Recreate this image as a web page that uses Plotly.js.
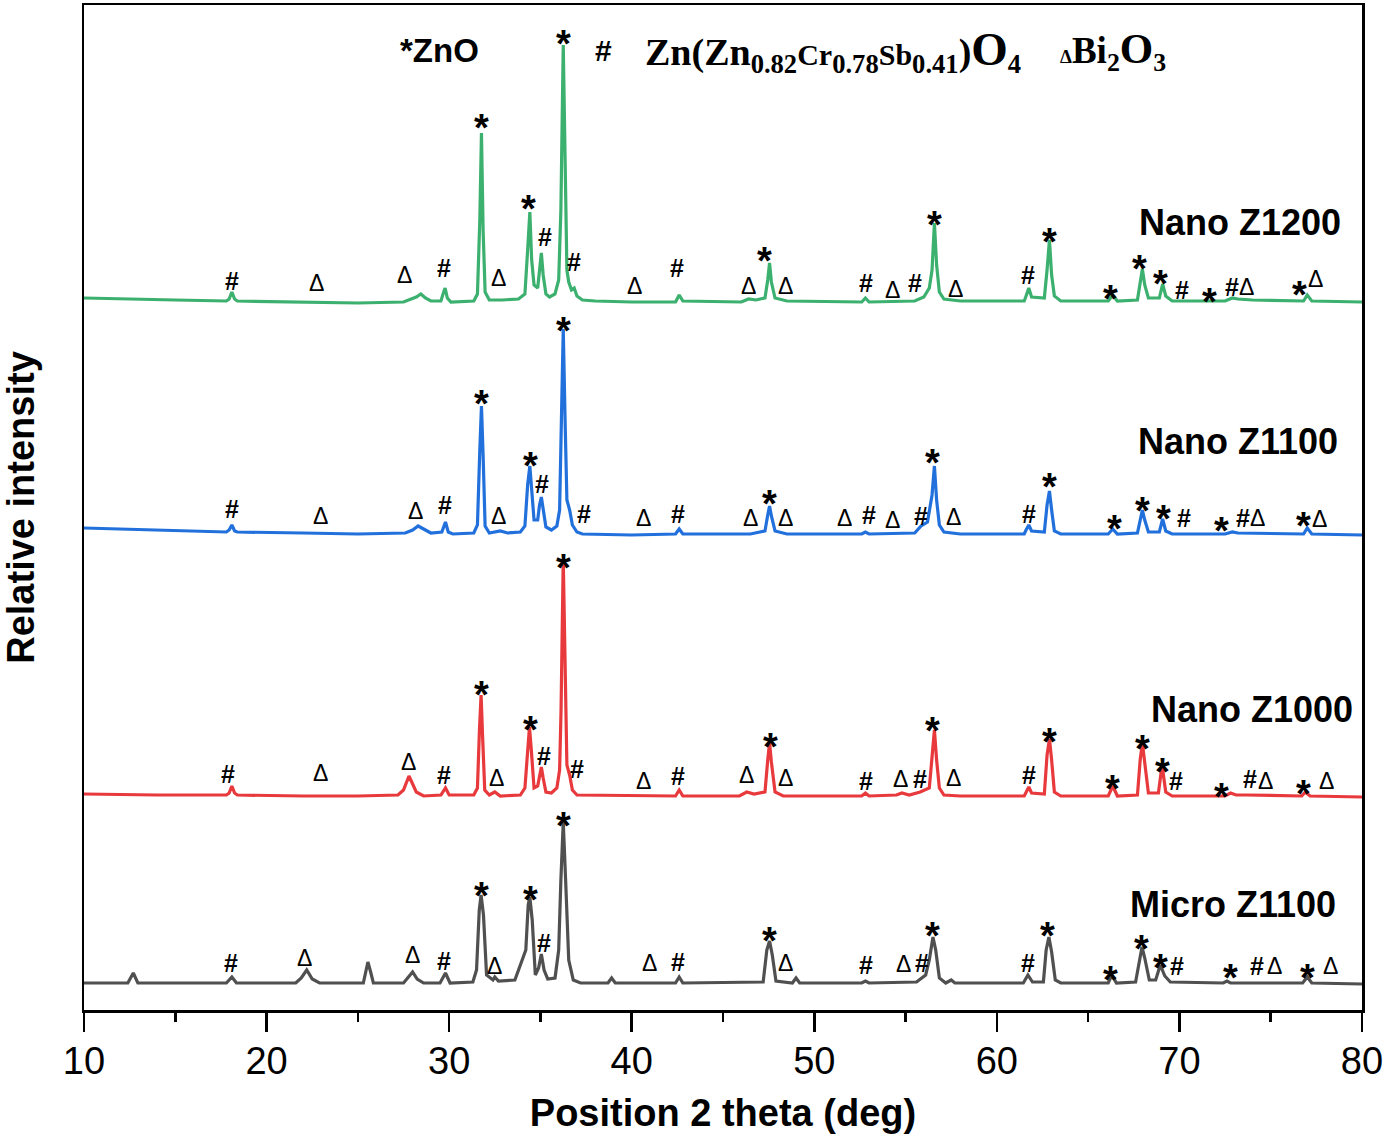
<!DOCTYPE html>
<html><head><meta charset="utf-8">
<script src="https://cdn.plot.ly/plotly-3.0.1.min.js"></script>
<style>html,body{margin:0;padding:0;background:#fff}#chart{width:1387px;height:1140px}</style>
</head><body><div id="chart"></div>
<script>
// ---- Data (2θ in degrees, stacked relative intensity) ----
const sampleNames = ["Nano Z1200", "Nano Z1100", "Nano Z1000", "Micro Z1100"];
const sampleColors = ["#3cb06e", "#2170dc", "#e8393d", "#505050"];

const nanoZ1200 = [[10,712],[12,711],[15,710],[17.8,709],[17.95,711],[18.1,718],[18.25,711],[18.4,709],[22,708],[25,707],[27.5,708],[28.0,711],[28.2,713],[28.45,716],[28.7,712],[29.0,709],[29.55,709],[29.7,718],[29.78,722],[29.9,712],[30.1,708],[31.35,709],[31.55,716],[31.68,790],[31.77,877],[31.86,780],[31.97,718],[32.2,710],[32.9,710],[33.8,711],[34.15,716],[34.3,760],[34.42,798],[34.52,750],[34.65,725],[34.85,722],[34.95,740],[35.05,757],[35.15,735],[35.3,716],[35.5,713],[35.8,716],[36.0,730],[36.12,800],[36.25,965],[36.35,830],[36.45,740],[36.55,728],[36.7,720],[36.85,722],[37.0,714],[37.3,710],[38,709],[40,708],[42.4,708],[42.6,715],[42.8,709],[46,708],[46.4,711],[46.8,710],[47.3,712],[47.45,730],[47.55,747],[47.65,728],[47.85,712],[48.5,709],[52.6,708],[52.8,712],[53.0,708],[55.5,709],[56.0,713],[56.3,722],[56.45,740],[56.58,787],[56.7,745],[56.85,718],[57.1,711],[58,709],[61.5,709],[61.6,714],[61.75,722],[61.9,713],[62.6,712],[62.75,740],[62.88,770],[63.0,735],[63.15,714],[63.5,709],[66.1,709],[66.35,715],[66.6,709],[67.7,710],[67.85,725],[67.97,741],[68.1,725],[68.3,712],[68.9,712],[69.08,726],[69.25,714],[69.6,709],[72.5,709],[72.9,712],[73.2,711],[74.0,710],[76.8,709],[77.0,715],[77.25,709],[80,708]];

const nanoZ1100 = [[10,482],[12,481],[15,479],[17.8,478],[17.95,480],[18.1,485],[18.25,479],[18.4,478],[22,477],[25,476],[27.6,477],[28.0,480],[28.3,484],[28.6,481],[29.0,477],[29.6,478],[29.8,488],[29.95,478],[30.2,476],[31.35,477],[31.55,485],[31.68,560],[31.77,604],[31.86,555],[31.97,484],[32.2,477],[32.8,479],[33.2,477],[33.9,478],[34.15,484],[34.3,525],[34.42,544],[34.52,520],[34.65,490],[34.85,490],[34.95,505],[35.05,513],[35.15,500],[35.3,483],[35.6,480],[35.9,484],[36.05,500],[36.13,560],[36.25,681],[36.35,590],[36.45,510],[36.6,500],[36.75,485],[37.0,478],[37.3,476],[40,475],[42.4,476],[42.6,481],[42.8,476],[46.5,476],[47.3,479],[47.45,495],[47.55,504],[47.65,494],[47.85,479],[48.5,476],[52.6,476],[52.8,478],[53.0,476],[55.5,477],[55.85,484],[56.2,488],[56.45,515],[56.58,544],[56.7,510],[56.85,485],[57.1,478],[58,476],[61.5,476],[61.6,480],[61.75,485],[61.9,479],[62.6,478],[62.75,505],[62.88,519],[63.0,500],[63.15,479],[63.5,476],[66.1,476],[66.35,481],[66.6,476],[67.7,477],[67.85,492],[67.97,500],[68.1,490],[68.3,478],[68.9,478],[69.08,491],[69.25,479],[69.6,476],[72.5,476],[72.9,478],[73.2,477],[76.8,476],[77.0,482],[77.25,476],[80,475]];

const nanoZ1000 = [[10,216],[14,215],[17.8,215],[17.95,217],[18.1,224],[18.25,217],[18.4,215],[22,214],[25,214],[27.2,215],[27.5,220],[27.7,230],[27.8,234],[27.95,228],[28.2,218],[28.6,214],[29.55,215],[29.8,222],[30.0,215],[31.35,215],[31.55,222],[31.66,280],[31.75,315],[31.84,270],[31.95,220],[32.2,215],[32.5,218],[32.8,214],[33.9,215],[34.15,222],[34.3,265],[34.4,283],[34.5,260],[34.65,222],[34.85,224],[34.95,235],[35.05,243],[35.15,232],[35.3,218],[35.6,217],[35.9,222],[36.05,240],[36.13,300],[36.25,451],[36.35,330],[36.45,245],[36.6,235],[36.75,220],[37.0,215],[40,214],[42.4,214],[42.6,220],[42.8,214],[45.9,214],[46.3,218],[46.7,216],[47.3,218],[47.45,250],[47.55,267],[47.65,248],[47.85,218],[48.3,214],[52.6,214],[52.8,217],[53.0,214],[54.5,215],[54.8,217],[55.2,215],[55.8,218],[56.3,222],[56.45,255],[56.58,280],[56.7,250],[56.85,222],[57.1,215],[58,214],[61.5,214],[61.6,218],[61.75,223],[61.9,217],[62.6,216],[62.75,255],[62.88,271],[63.0,250],[63.15,218],[63.5,214],[66.1,214],[66.35,224],[66.6,214],[67.7,215],[67.85,250],[67.97,267],[68.1,245],[68.3,217],[68.85,217],[69.05,245],[69.25,218],[69.6,214],[72.5,214],[72.8,217],[73.1,215],[73.7,215],[76.7,214],[76.9,218],[77.15,214],[80,213]];

const microZ1100 = [[10,27],[12.4,27],[12.7,37],[12.95,27],[17.8,27],[18.1,33],[18.35,27],[21.6,27],[21.9,32],[22.2,40],[22.5,31],[22.9,27],[25.3,27],[25.45,40],[25.55,48],[25.7,38],[25.85,27],[27.5,27],[27.8,33],[28.0,38],[28.25,31],[28.6,27],[29.5,27],[29.8,37],[30.05,27],[31.3,28],[31.5,40],[31.65,100],[31.75,115],[31.88,95],[32.05,35],[32.4,30],[32.5,33],[32.7,29],[33.6,30],[33.9,45],[34.05,52],[34.2,60],[34.33,105],[34.42,113],[34.55,90],[34.72,35],[34.9,42],[35.05,56],[35.2,40],[35.4,31],[35.8,32],[36.0,60],[36.12,130],[36.25,188],[36.38,130],[36.55,50],[36.8,30],[37.2,27],[38.7,27],[38.9,32],[39.1,27],[42.4,27],[42.6,33],[42.8,27],[47.2,28],[47.4,60],[47.55,69],[47.7,55],[47.9,29],[48.8,27],[49.0,32],[49.2,27],[52.6,27],[52.8,29],[53.0,27],[55.6,28],[56.1,35],[56.3,50],[56.5,73],[56.65,60],[56.85,32],[57.2,27],[57.5,30],[57.7,27],[61.45,27],[61.7,35],[61.95,28],[62.55,28],[62.7,60],[62.85,73],[63.0,58],[63.2,30],[63.5,27],[66.1,27],[66.3,35],[66.55,27],[67.6,28],[67.8,50],[67.95,63],[68.1,52],[68.35,30],[68.7,30],[68.95,45],[69.2,34],[69.5,28],[72.4,27],[72.6,29],[72.8,27],[76.75,27],[77.0,33],[77.25,27],[80,26]];

// phase markers: [symbol, 2θ, level]
const marksZ1200 = [["#",18.11,729],["Δ",22.71,727],["Δ",27.53,735],["#",29.72,742],["*",31.75,893],["Δ",32.73,732],["*",34.37,812],["#",35.25,773],["*",36.29,977],["#",36.84,748],["Δ",40.13,724],["#",42.48,742],["Δ",46.37,724],["*",47.3,760],["Δ",48.45,724],["#",52.83,727],["Δ",54.31,720],["#",55.52,727],["*",56.56,796],["Δ",57.76,721],["#",61.71,735],["*",62.86,779],["*",66.25,722],["*",67.79,752],["*",68.99,737],["#",70.14,720],["*",71.67,719],["#",72.88,723],["Δ",73.7,723],["*",76.6,726],["Δ",77.48,731]];
const marksZ1100 = [["#",18.11,501],["Δ",22.93,494],["Δ",28.18,499],["#",29.77,505],["*",31.75,617],["Δ",32.73,494],["*",34.48,555],["#",35.08,526],["*",36.24,690],["#",37.39,496],["Δ",40.67,492],["#",42.54,496],["Δ",46.53,492],["*",47.52,517],["Δ",48.45,492],["Δ",51.63,492],["#",53.0,495],["Δ",54.31,490],["#",55.85,494],["*",56.5,558],["Δ",57.6,493],["#",61.76,496],["*",62.86,534],["*",66.47,492],["*",67.96,510],["*",69.1,502],["#",70.25,492],["*",72.33,490],["#",73.48,492],["Δ",74.25,492],["*",76.77,495],["Δ",77.65,491]];
const marksZ1000 = [["#",17.89,236],["Δ",22.93,237],["Δ",27.8,248],["#",29.72,235],["*",31.75,326],["Δ",32.62,232],["*",34.43,291],["#",35.2,254],["*",36.24,453],["#",37.0,241],["Δ",40.67,229],["#",42.54,234],["Δ",46.31,235],["*",47.58,274],["Δ",48.4,232],["#",52.83,229],["Δ",54.7,231],["#",55.79,231],["*",56.45,290],["Δ",57.65,232],["#",61.76,235],["*",62.91,279],["*",66.36,232],["*",68.0,272],["*",69.05,249],["#",69.81,229],["*",72.33,224],["#",73.87,231],["Δ",74.69,229],["*",76.77,227],["Δ",78.03,229]];
const marksMicro = [["#",18.05,47],["Δ",22.1,52],["Δ",27.97,55],["#",29.72,49],["*",31.75,125],["Δ",32.51,44],["*",34.43,121],["#",35.2,67],["*",36.24,195],["Δ",41.0,47],["#",42.54,48],["*",47.52,80],["Δ",48.45,47],["#",52.83,45],["Δ",54.91,46],["#",55.9,47],["*",56.5,85],["#",61.71,47],["*",62.8,85],["*",66.25,41],["*",67.9,72],["*",68.94,53],["#",69.87,44],["*",72.77,43],["#",74.25,44],["Δ",75.18,44],["*",76.99,43],["Δ",78.3,44]];

// sample name label anchors [right-edge 2θ, level]
const nameAnchors = [[78.96,788],[78.8,569],[79.62,301],[78.69,106]];

const xTickVals = [10,20,30,40,50,60,70,80];

// ---- Build the figure ----
const series = [nanoZ1200, nanoZ1100, nanoZ1000, microZ1100];
const marks = [marksZ1200, marksZ1100, marksZ1000, marksMicro];

const traces = series.map((pts, i) => ({
  type: 'scatter', mode: 'lines', name: sampleNames[i],
  x: pts.map(p => p[0]), y: pts.map(p => p[1]),
  line: {color: sampleColors[i], width: 3.2},
  hoverinfo: 'skip', showlegend: false
}));

const SANS = 'Liberation Sans, Arial, sans-serif';
const SERIF = 'Liberation Serif, Times New Roman, serif';
const symFont = {
  '*': {family: SANS, size: 38, color: '#000', weight: 'bold'},
  '#': {family: SANS, size: 25, color: '#000', weight: 'bold'},
  'Δ': {family: SANS, size: 23, color: '#000'}
};
const symShift = {'*': -11, '#': 0, 'Δ': 0};

const annotations = [];
marks.forEach(list => list.forEach(m => {
  annotations.push({x: m[1], y: m[2], xref: 'x', yref: 'y', text: m[0], showarrow: false,
    xanchor: 'center', yanchor: 'middle', yshift: symShift[m[0]], font: symFont[m[0]], borderpad: 0});
}));
nameAnchors.forEach((a, i) => {
  annotations.push({x: a[0], y: a[1], xref: 'x', yref: 'y', text: sampleNames[i], showarrow: false,
    xanchor: 'right', yanchor: 'middle', font: {family: SANS, size: 36, color: '#000', weight: 'bold'}});
});
// top phase key
annotations.push({x: 27.2, y: 960, xref: 'x', yref: 'y', text: '*ZnO', showarrow: false, xanchor: 'left', yanchor: 'middle',
  font: {family: SANS, size: 33, color: '#000', weight: 'bold'}});
annotations.push({x: 38.43, y: 960, xref: 'x', yref: 'y', text: '#', showarrow: false, xanchor: 'center', yanchor: 'middle',
  font: {family: SANS, size: 30, color: '#000', weight: 'bold'}});
annotations.push({x: 40.62, y: 959, xref: 'x', yref: 'y',
  text: 'Zn(Zn<sub>0.82</sub><span style="font-size:30px">Cr</span><sub>0.78</sub><span style="font-size:30px">Sb</span><sub>0.41</sub>)<span style="font-size:47px">O</span><sub>4</sub>',
  showarrow: false, xanchor: 'left', yanchor: 'middle',
  font: {family: SERIF, size: 38, color: '#000', weight: 'bold'}});
annotations.push({x: 63.35, y: 959, xref: 'x', yref: 'y',
  text: '<span style="font-size:19px">Δ</span>Bi<sub>2</sub><span style="font-size:43px">O</span><sub>3</sub>',
  showarrow: false, xanchor: 'left', yanchor: 'middle',
  font: {family: SERIF, size: 37, color: '#000', weight: 'bold'}});

const layout = {
  width: 1387, height: 1140,
  margin: {l: 84, r: 25, t: 5, b: 130},
  paper_bgcolor: '#fff', plot_bgcolor: '#fff',
  showlegend: false,
  xaxis: {
    range: [10, 80], tickvals: xTickVals, ticktext: xTickVals.map(String),
    ticks: 'outside', ticklen: 19, tickwidth: 2.5, tickcolor: '#000',
    minor: {dtick: 5, ticks: 'outside', ticklen: 9, tickwidth: 2.5, tickcolor: '#000', showgrid: false},
    showline: true, linewidth: 2.5, linecolor: '#000', mirror: true,
    showgrid: false, zeroline: false, ticklabelstandoff: -3,
    tickfont: {family: SANS, size: 38, color: '#000'},
    title: {text: 'Position 2 theta (deg)', standoff: 19,
      font: {family: SANS, size: 38, color: '#000', weight: 'bold'}}
  },
  yaxis: {
    range: [0, 1005], showticklabels: false, ticks: '',
    showline: true, linewidth: 2.5, linecolor: '#000', mirror: true,
    showgrid: false, zeroline: false,
    title: {text: 'Relative intensity', standoff: 44,
      font: {family: SANS, size: 38, color: '#000', weight: 'bold'}}
  },
  annotations: annotations
};

Plotly.newPlot('chart', traces, layout, {staticPlot: true, displayModeBar: false});
</script>
</body></html>
